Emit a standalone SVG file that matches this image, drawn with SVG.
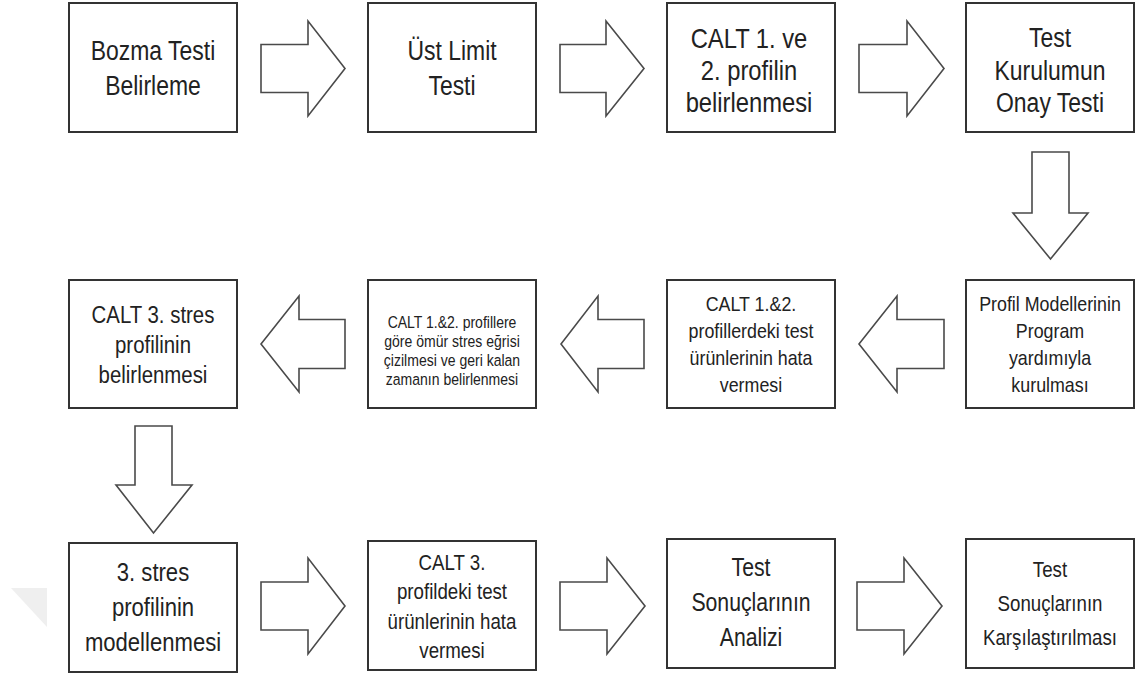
<svg xmlns="http://www.w3.org/2000/svg" width="1136" height="677" viewBox="0 0 1136 677">
<style>
.box{fill:#fff;stroke:#333;stroke-width:2}
.arr{fill:#fff;stroke:#4a4a4a;stroke-width:1.6;stroke-linejoin:miter}
text{font-family:"Liberation Sans",Arial,sans-serif;fill:#222;text-anchor:middle}
.f27{font-size:27px}.f26{font-size:26px}.f25{font-size:25px}.f24{font-size:24px}.f22{font-size:22px}.f21{font-size:21px}.f17{font-size:16.5px}
</style>
<rect width="1136" height="677" fill="#fff"/>
<polygon points="11,588 47,588 47,627" fill="#efefef"/>
<g id="connectors">
<polygon class="arr" points="261,44.5 308,44.5 308,21 345,68.5 308,116 308,92.5 261,92.5"/>
<polygon class="arr" points="560,44.5 606,44.5 606,21 644,68.5 606,116 606,92.5 560,92.5"/>
<polygon class="arr" points="859,44.5 907,44.5 907,21 944,68.5 907,116 907,92.5 859,92.5"/>
<polygon class="arr" points="1032,152 1069,152 1069,213 1088,213 1050.5,259 1013,213 1032,213"/>
<polygon class="arr" points="944,319.5 897,319.5 897,296 859,344 897,392 897,368.5 944,368.5"/>
<polygon class="arr" points="644,319.5 598,319.5 598,296 561,344 598,392 598,368.5 644,368.5"/>
<polygon class="arr" points="345,319.5 299,319.5 299,296 261,344 299,392 299,368.5 345,368.5"/>
<polygon class="arr" points="135,426 172,426 172,485 192,485 153.5,533 116,485 135,485"/>
<polygon class="arr" points="261,582 308,582 308,558 345,606 308,654 308,630 261,630"/>
<polygon class="arr" points="560,582 607,582 607,558 645,606 607,654 607,630 560,630"/>
<polygon class="arr" points="857,582 904,582 904,558 942,606 904,654 904,630 857,630"/>
</g>
<g id="n1"><rect class="box" x="69" y="3" width="168" height="129"/>
<text class="f27" transform="translate(153,0) scale(0.85,1)"><tspan x="0" y="60">Bozma Testi</tspan><tspan x="0" y="95">Belirleme</tspan></text></g>
<g id="n2"><rect class="box" x="368" y="3" width="168" height="129"/>
<text class="f27" transform="translate(452,0) scale(0.85,1)"><tspan x="0" y="60">Üst Limit</tspan><tspan x="0" y="95">Testi</tspan></text></g>
<g id="n3"><rect class="box" x="667" y="3" width="168" height="129"/>
<text class="f27" transform="translate(749,0) scale(0.88,1)"><tspan x="0" y="48">CALT 1. ve</tspan><tspan x="0" y="80">2. profilin</tspan><tspan x="0" y="112">belirlenmesi</tspan></text></g>
<g id="n4"><rect class="box" x="966" y="3" width="168" height="129"/>
<text class="f27" transform="translate(1050,0) scale(0.85,1)"><tspan x="0" y="47">Test</tspan><tspan x="0" y="80">Kurulumun</tspan><tspan x="0" y="112">Onay Testi</tspan></text></g>
<g id="n5"><rect class="box" x="966" y="280" width="168" height="128"/>
<text class="f21" transform="translate(1050,0) scale(0.85,1)"><tspan x="0" y="311">Profil Modellerinin</tspan><tspan x="0" y="338">Program</tspan><tspan x="0" y="365">yardımıyla</tspan><tspan x="0" y="392">kurulması</tspan></text></g>
<g id="n6"><rect class="box" x="667" y="280" width="168" height="128"/>
<text class="f21" transform="translate(751,0) scale(0.85,1)"><tspan x="0" y="311">CALT 1.&amp;2.</tspan><tspan x="0" y="338">profillerdeki test</tspan><tspan x="0" y="365">ürünlerinin hata</tspan><tspan x="0" y="392">vermesi</tspan></text></g>
<g id="n7"><rect class="box" x="368" y="280" width="168" height="128"/>
<text class="f17" transform="translate(452,0) scale(0.85,1)"><tspan x="0" y="328">CALT 1.&amp;2. profillere</tspan><tspan x="0" y="347">göre ömür stres eğrisi</tspan><tspan x="0" y="366">çizilmesi ve geri kalan</tspan><tspan x="0" y="385">zamanın belirlenmesi</tspan></text></g>
<g id="n8"><rect class="box" x="69" y="280" width="168" height="128"/>
<text class="f24" transform="translate(153,0) scale(0.85,1)"><tspan x="0" y="323">CALT 3. stres</tspan><tspan x="0" y="353">profilinin</tspan><tspan x="0" y="383">belirlenmesi</tspan></text></g>
<g id="n9"><rect class="box" x="69" y="543" width="168" height="129"/>
<text class="f26" transform="translate(153,0) scale(0.85,1)"><tspan x="0" y="581">3. stres</tspan><tspan x="0" y="616">profilinin</tspan><tspan x="0" y="651">modellenmesi</tspan></text></g>
<g id="n10"><rect class="box" x="368" y="541" width="168" height="129"/>
<text class="f22" transform="translate(452,0) scale(0.85,1)"><tspan x="0" y="570">CALT 3.</tspan><tspan x="0" y="599.5">profildeki test</tspan><tspan x="0" y="629">ürünlerinin hata</tspan><tspan x="0" y="658.5">vermesi</tspan></text></g>
<g id="n11"><rect class="box" x="667" y="539" width="168" height="129"/>
<text class="f25" transform="translate(751,0) scale(0.85,1)"><tspan x="0" y="576">Test</tspan><tspan x="0" y="611">Sonuçlarının</tspan><tspan x="0" y="646">Analizi</tspan></text></g>
<g id="n12"><rect class="box" x="966" y="539" width="168" height="129"/>
<text class="f22" transform="translate(1050,0) scale(0.85,1)"><tspan x="0" y="577">Test</tspan><tspan x="0" y="611">Sonuçlarının</tspan><tspan x="0" y="645">Karşılaştırılması</tspan></text></g>
</svg>
